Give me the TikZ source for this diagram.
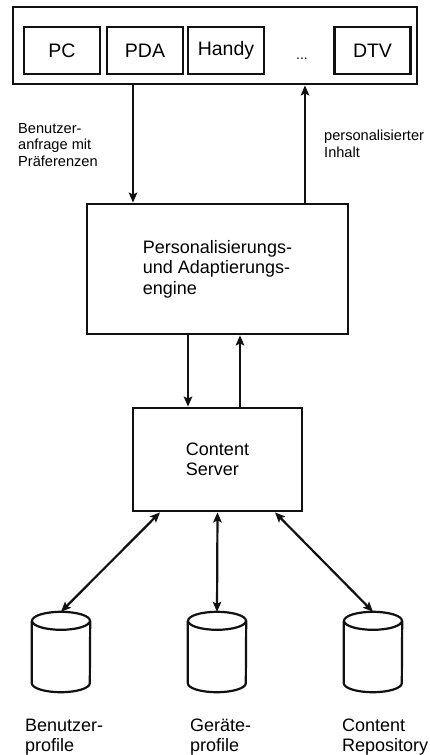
\documentclass[tikz,border=0pt]{standalone}
\usepackage{fontspec}
\setmainfont{Liberation Sans}
\usetikzlibrary{arrows.meta}
\definecolor{inkc}{HTML}{111111}

\begin{document}
\begin{tikzpicture}[x=1pt,y=-1pt,
  box/.style={draw=inkc, line width=2.8pt, inner sep=0pt},
  dev/.style={box, minimum width=76pt, minimum height=47pt, font=\fontsize{19.5}{22}\selectfont},
  arr/.style={draw=inkc, line width=2.2pt, -{Stealth[length=10pt,width=8.5pt,inset=2pt]}},
  biarr/.style={arr, {Stealth[length=10pt,width=8.5pt,inset=2pt]}-{Stealth[length=10pt,width=8.5pt,inset=2pt]}},
  db/.style={minimum width=58pt, minimum height=80pt, inner sep=0pt},
  dbline/.style={draw=inkc, line width=2.2pt},
  txt/.style={align=left, inner sep=0pt, font=\fontsize{18}{20.5}\selectfont},
  note/.style={align=left, inner sep=0pt, font=\fontsize{14.6}{16.5}\selectfont}]
  \useasboundingbox (0,0) rectangle (429,755);
  % end devices
  \node[box, minimum width=404pt, minimum height=77pt] (devices) at (215,45.5) {};
  \node[dev] (pc) at (62,50.5) {PC};
  \node[dev] (pda) at (145,50.5) {PDA};
  \node[dev] (handy) at (226,50.5) {Handy};
  \node[inner sep=0pt, anchor=base, font=\fontsize{14}{16}\selectfont] (dots) at (302,59) {...};
  \node[dev] (dtv) at (372.5,50.5) {DTV};
  % engine and server
  \node[box, txt, minimum width=261pt, minimum height=130pt] (engine) at (217.5,269)
    {Personalisierungs-\\und Adaptierungs-\\engine};
  \node[box, txt, minimum width=169pt, minimum height=103pt] (server) at (217.5,459.5)
    {Content\\Server};
  % data stores
  \node[db] (userdb) at (61,652) {};
  \node[db] (devdb) at (217,652) {};
  \node[db] (repodb) at (373,652) {};
  \foreach \d in {userdb,devdb,repodb} {
    \draw[dbline] ([yshift=-9pt]\d.north) ellipse [x radius=29pt, y radius=9pt];
    \draw[dbline] ([yshift=-9pt]\d.north west) -- ([yshift=9pt]\d.south west)
      arc [start angle=180, end angle=360, x radius=29pt, y radius=9pt]
      -- ([yshift=-9pt]\d.north east);
  }
  \node[txt, anchor=west] (userlbl) at (25,737) {Benutzer-\\profile};
  \node[txt, anchor=west] (devlbl) at (190,737) {Geräte-\\profile};
  \node[txt, anchor=west] (repolbl) at (342,737) {Content\\Repository};
  % arrow labels
  \node[note, anchor=west] (reqlbl) at (18,145) {Benutzer-\\anfrage mit\\Präferenzen};
  \node[note, anchor=west] (reslbl) at (324,144) {personalisierter\\Inhalt};
  % connectors
  \draw[arr] ([xshift=-82pt]devices.south) -- ([xshift=-84.5pt]engine.north);
  \draw[arr] ([xshift=87.5pt]engine.north) -- ([xshift=90pt]devices.south);
  \draw[arr] ([xshift=-29.5pt]engine.south) -- ([xshift=-29.5pt]server.north);
  \draw[arr] ([xshift=22.5pt]server.north) -- ([xshift=22.5pt]engine.south);
  \draw[biarr] ([xshift=-57.5pt]server.south) -- (userdb.north);
  \draw[biarr] (server.south) -- (devdb.north);
  \draw[biarr] ([xshift=57.5pt]server.south) -- (repodb.north);
\end{tikzpicture}
\end{document}
